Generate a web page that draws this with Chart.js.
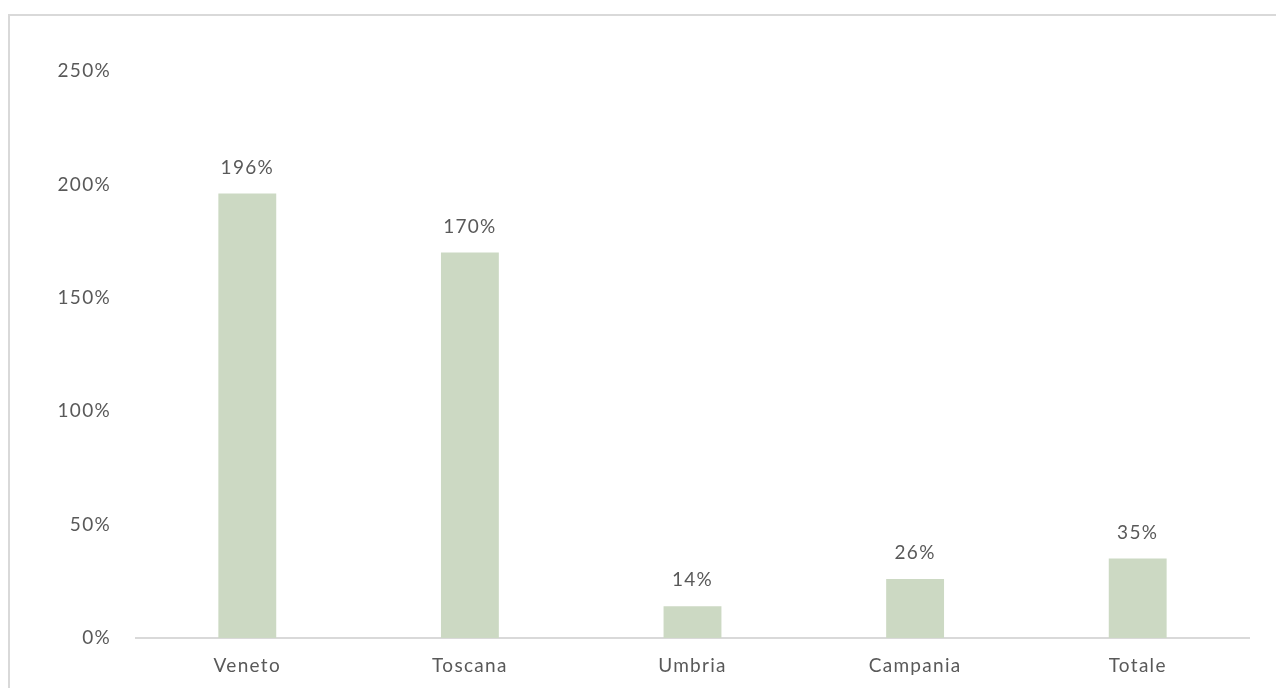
<!DOCTYPE html>
<html>
<head>
<meta charset="utf-8">
<script src="https://cdn.jsdelivr.net/npm/chart.js@4"></script>
<style>
  html, body { margin: 0; padding: 0; background: #fff; overflow: hidden; }
  #frame {
    position: absolute; left: 8px; top: 14px; width: 1400px; height: 800px;
    border: 2px solid #d9d9d9; box-sizing: border-box;
  }
  #wrap { position: absolute; left: 0; top: 0; width: 1276px; height: 688px; }
</style>
</head>
<body>
<div id="frame"></div>
<div id="wrap"><canvas id="growthChart"></canvas></div>
<script>
// values
const regions = ['Veneto', 'Toscana', 'Umbria', 'Campania', 'Totale'];
const growth = [196, 170, 14, 26, 35];
const tickValues = [0, 50, 100, 150, 200, 250];

const textColor = '#595959';
const fontFamily = 'Lato, "Open Sans", sans-serif';
const fontSize = 19;

// wider tracking, like the original
const tracking = {
    id: 'tracking',
    beforeDraw(chart) { chart.ctx.letterSpacing = '1.3px'; }
};

// draws the % labels above each bar
const valueLabels = {
    id: 'valueLabels',
    afterDatasetsDraw(chart) {
        const ctx = chart.ctx;
        const meta = chart.getDatasetMeta(0);
        ctx.save();
        ctx.font = fontSize + 'px ' + fontFamily;
        ctx.fillStyle = textColor;
        ctx.textAlign = 'center';
        ctx.textBaseline = 'middle';
        meta.data.forEach((bar, i) => {
            ctx.fillText(growth[i] + '%', bar.x, bar.y - 26);
        });
        ctx.restore();
    }
};

const ctx = document.getElementById('growthChart').getContext('2d');
new Chart(ctx, {
    type: 'bar',
    data: {
        labels: regions,
        datasets: [{
            data: growth,
            backgroundColor: '#ccd9c3',
            barPercentage: 0.26,
            categoryPercentage: 1
        }]
    },
    options: {
        responsive: true,
        maintainAspectRatio: false,
        animation: false,
        layout: { padding: { top: 71, right: 27, left: 0, bottom: 0 } },
        plugins: {
            legend: { display: false },
            tooltip: { enabled: false }
        },
        scales: {
            x: {
                grid: { display: false, drawTicks: false },
                border: { display: true, color: '#d9d9d9', width: 2 },
                ticks: { color: textColor, font: { family: fontFamily, size: fontSize }, padding: 16 },
                afterFit(scale) { scale.height = 50; }
            },
            y: {
                min: 0,
                max: 250,
                afterBuildTicks(scale) { scale.ticks = tickValues.map(v => ({ value: v })); },
                grid: { display: false, drawTicks: false },
                border: { display: false },
                ticks: {
                    color: textColor,
                    font: { family: fontFamily, size: fontSize },
                    padding: 25,
                    callback: v => v + '%'
                },
                afterFit(scale) { scale.width = 136; }
            }
        }
    },
    plugins: [tracking, valueLabels]
});
</script>
</body>
</html>
